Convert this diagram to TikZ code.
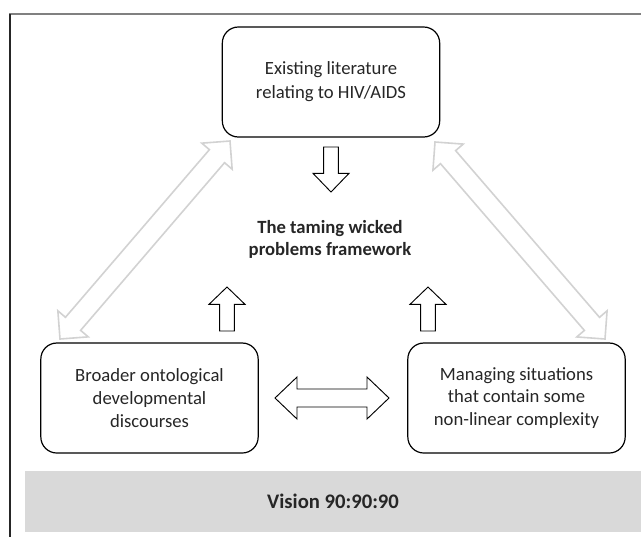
\documentclass[tikz,border=0pt]{standalone}
\usepackage{fontspec}
\setmainfont{Carlito}
\usetikzlibrary{calc}
\definecolor{framegray}{HTML}{808080}
\definecolor{arrowgray}{HTML}{D2D2D2}
\definecolor{bandgray}{HTML}{D9D9D9}
\definecolor{textgray}{HTML}{262626}
\tikzset{
  box/.style={draw=black, line width=0.9pt, rounded corners=12pt, minimum width=163pt, minimum height=82.5pt, align=center, inner sep=0pt, text=textgray},
  topfont/.style={font=\fontsize{14}{18}\selectfont},
  lowfont/.style={font=\fontsize{14}{17}\selectfont},
  boldtext/.style={align=center, inner sep=0pt, text=textgray, font=\bfseries\fontsize{14}{16.5}\selectfont},
  band/.style={fill=bandgray, draw=none, minimum width=462pt, minimum height=45.75pt, inner sep=0pt, text=textgray, font=\bfseries\fontsize{15.5}{18}\selectfont},
  blackarrow/.style={draw=black, line width=0.7pt, fill=white, line join=miter},
  greyarrow/.style={draw=arrowgray, line width=1.2pt, fill=white, line join=miter},
}
% double block arrow: style, end A, end B, shaft half, head half, head length
\newcommand{\blkdouble}[6]{%
  \path (#2) coordinate (da) (#3) coordinate (db);
  \path ($(da)!#6!(db)$) coordinate (da1) ($(db)!#6!(da)$) coordinate (db1);
  \draw[#1] (da) -- ($(da1)!#5!90:(db)$) -- ($(da1)!#4!90:(db)$) -- ($(db1)!#4!-90:(da)$) -- ($(db1)!#5!-90:(da)$) -- (db) -- ($(db1)!#5!90:(da)$) -- ($(db1)!#4!90:(da)$) -- ($(da1)!#4!-90:(db)$) -- ($(da1)!#5!-90:(db)$) -- cycle;
}
% single block arrow: style, tail, tip, shaft half, head half, head length
\newcommand{\blksingle}[6]{%
  \path (#2) coordinate (sa) (#3) coordinate (sb);
  \path ($(sb)!#6!(sa)$) coordinate (sb1);
  \draw[#1] ($(sa)!#4!90:(sb)$) -- ($(sb1)!#4!-90:(sa)$) -- ($(sb1)!#5!-90:(sa)$) -- (sb) -- ($(sb1)!#5!90:(sa)$) -- ($(sb1)!#4!90:(sa)$) -- ($(sa)!#4!-90:(sb)$) -- cycle;
}
\begin{document}
\begin{tikzpicture}[x=0.75pt,y=-0.75pt]
\useasboundingbox (0,0) rectangle (641,537);
% frame
\coordinate (ftl) at (10,14);
\coordinate (ftr) at (641,14);
\coordinate (fbl) at (10,537);
\draw[framegray, line width=1.1pt] (9,14) -- (ftr);
\draw[black!85, line width=1.1pt] (ftl) -- (fbl);
% boxes
\node[box, topfont] (lit) at (331,82) {Existing literature\\relating to HIV/AIDS};
\node[box, lowfont] (onto) at (149.5,398) {Broader ontological\\developmental\\discourses};
\node[box, lowfont] (manage) at (516.5,398) {Managing situations\\that contain some\\non-linear complexity};
\node[boldtext] (frame) at (330,239) {The taming wicked\\problems framework};
\node[band] (vision) at (333,501.5) {Vision 90:90:90};
% grey diagonal double arrows
\coordinate (gl1) at (60,339);
\coordinate (gl2) at (230,141);
\coordinate (gr1) at (435,142);
\coordinate (gr2) at (605,339);
\blkdouble{greyarrow}{gl1}{gl2}{7.5pt}{15pt}{15pt}
\blkdouble{greyarrow}{gr1}{gr2}{7.5pt}{15pt}{15pt}
% black arrows
\coordinate (dtail) at (331,147);
\coordinate (dtip) at (331,192);
\blksingle{blackarrow}{dtail}{dtip}{5.5pt}{13.5pt}{14pt}
\coordinate (ultail) at (227,331);
\coordinate (ultip) at (227,287);
\blksingle{blackarrow}{ultail}{ultip}{5.5pt}{13.5pt}{13pt}
\coordinate (urtail) at (428,331);
\coordinate (urtip) at (428,287);
\blksingle{blackarrow}{urtail}{urtip}{5.5pt}{13.5pt}{13pt}
\coordinate (hl) at (275,398);
\coordinate (hr) at (389,398);
\blkdouble{blackarrow}{hl}{hr}{6.75pt}{15.75pt}{16.5pt}
\end{tikzpicture}
\end{document}
